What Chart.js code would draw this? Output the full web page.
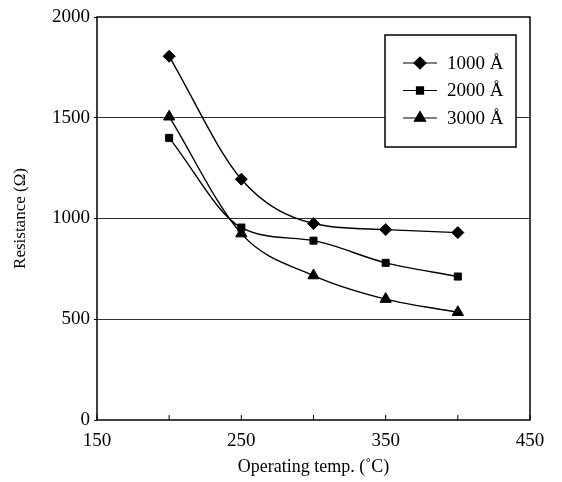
<!DOCTYPE html>
<html lang="en">
<head>
    <meta charset="UTF-8">
    <title>Resistance vs operating temperature</title>
    <script src="https://cdn.jsdelivr.net/npm/chart.js"></script>
    <style>
        html, body { margin: 0; padding: 0; background: #fff; }
        #wrap { width: 562px; height: 482px; }
    </style>
</head>
<body>
<div id="wrap"><canvas id="resChart" width="562" height="482"></canvas></div>
<script>
// values
const temps = [200, 250, 300, 350, 400];
const series1000 = [1805, 1195, 975, 945, 930];
const series2000 = [1400, 955, 890, 780, 712];
const series3000 = [1505, 925, 717, 600, 535];
const seriesNames = ['1000 \u00c5', '2000 \u00c5', '3000 \u00c5'];
const xLabels = [150, 250, 350, 450];

const FONT = "'Liberation Serif', 'Times New Roman', serif";

function pts(vals) {
    return temps.map((t, i) => ({x: t, y: vals[i]}));
}

// box, inward x ticks and the legend
const frame = {
    id: 'frame',
    afterDraw(chart) {
        const ctx = chart.ctx, a = chart.chartArea;
        const xs = chart.scales.x;
        ctx.save();
        ctx.strokeStyle = '#000';
        ctx.lineWidth = 1.5;
        ctx.strokeRect(a.left, a.top, a.right - a.left, a.bottom - a.top);
        ctx.lineWidth = 1;
        xs.ticks.forEach(t => {
            const px = xs.getPixelForValue(t.value);
            ctx.beginPath();
            ctx.moveTo(px, a.bottom);
            ctx.lineTo(px, a.bottom - 5);
            ctx.stroke();
        });

        // legend
        const lx = 385, ly = 35, lw = 131, lh = 112;
        ctx.fillStyle = '#fff';
        ctx.fillRect(lx, ly, lw, lh);
        ctx.lineWidth = 1.5;
        ctx.strokeRect(lx, ly, lw, lh);
        ctx.font = '19px ' + FONT;
        ctx.textBaseline = 'middle';
        ctx.textAlign = 'left';
        chart.data.datasets.forEach((ds, i) => {
            const y = 63 + i * 27.5;
            ctx.strokeStyle = '#000';
            ctx.lineWidth = 1.2;
            ctx.beginPath();
            ctx.moveTo(403, y);
            ctx.lineTo(437, y);
            ctx.stroke();
            ctx.fillStyle = '#000';
            Chart.helpers.drawPoint(ctx, {pointStyle: ds.pointStyle, radius: ds.pointRadius, rotation: 0, borderWidth: 1}, 420, y);
            ctx.fillText(ds.label, 447, y + 1);
        });
        ctx.restore();
    }
};

const mk = (label, vals, style, r) => ({
    label: label,
    data: pts(vals),
    borderColor: '#000',
    backgroundColor: '#000',
    borderWidth: 1.4,
    pointStyle: style,
    pointRadius: r,
    pointBorderWidth: 1,
    tension: 0.4,
    cubicInterpolationMode: 'monotone',
    fill: false
});

new Chart(document.getElementById('resChart'), {
    type: 'line',
    data: {
        datasets: [
            mk(seriesNames[0], series1000, 'rectRot', 6),
            mk(seriesNames[1], series2000, 'rect', 5),
            mk(seriesNames[2], series3000, 'triangle', 6.5)
        ]
    },
    options: {
        responsive: false,
        animation: false,
        layout: {padding: {top: 17, right: 32, left: 0, bottom: 0}},
        plugins: {legend: {display: false}, tooltip: {enabled: false}},
        scales: {
            x: {
                type: 'linear',
                min: 150, max: 450,
                grid: {display: false},
                border: {display: false},
                afterFit(s) { s.height = 62; },
                ticks: {
                    stepSize: 50,
                    autoSkip: false,
                    maxRotation: 0,
                    padding: 2,
                    color: '#000',
                    font: {family: FONT, size: 19},
                    callback: v => xLabels.includes(v) ? String(v) : ''
                },
                title: {
                    display: true,
                    text: 'Operating temp. (\u02daC)',
                    color: '#000',
                    font: {family: FONT, size: 18},
                    padding: {top: 0, bottom: 4}
                }
            },
            y: {
                min: 0, max: 2000,
                afterFit(s) { s.width = 97; },
                grid: {
                    color: ctx => (ctx.tick && (ctx.tick.value === 0 || ctx.tick.value === 2000)) ? 'rgba(0,0,0,0)' : '#333',
                    lineWidth: 1,
                    drawTicks: true,
                    tickLength: 3,
                    tickColor: '#000'
                },
                border: {display: false},
                ticks: {
                    stepSize: 500,
                    padding: 4,
                    color: '#000',
                    font: {family: FONT, size: 19},
                    callback: v => String(v)
                },
                title: {
                    display: true,
                    text: 'Resistance (\u03a9)',
                    color: '#000',
                    font: {family: FONT, size: 17},
                    padding: {top: 10, bottom: 0}
                }
            }
        }
    },
    plugins: [frame]
});
</script>
</body>
</html>
